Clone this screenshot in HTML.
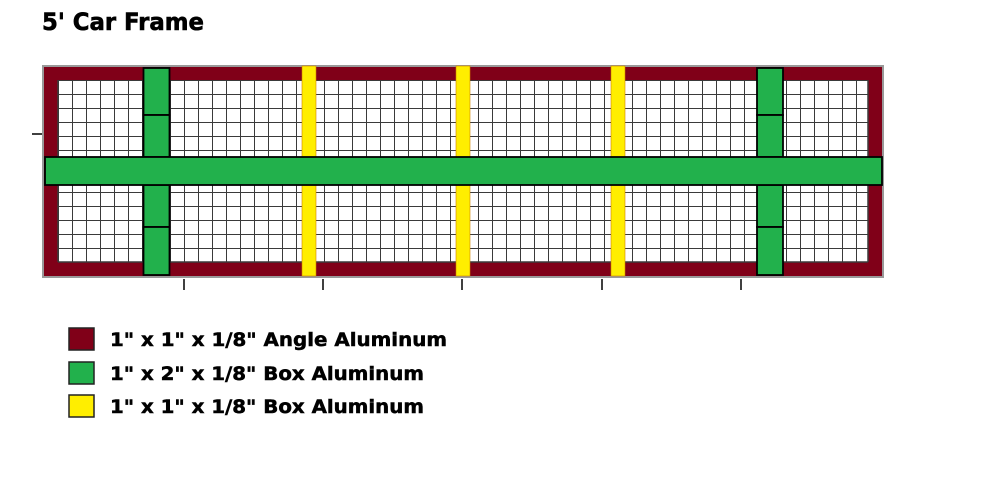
<!DOCTYPE html>
<html><head><meta charset="utf-8"><style>html,body{margin:0;padding:0;background:#fff;width:1000px;height:485px;overflow:hidden}</style></head>
<body>
<svg width="1000" height="485" xmlns="http://www.w3.org/2000/svg" font-family="Tahoma, 'DejaVu Sans', 'Liberation Sans', sans-serif" font-weight="bold">
<defs>
<pattern id="g" x="58" y="80" width="14" height="14" patternUnits="userSpaceOnUse">
<rect width="14" height="14" fill="#fff"/>
<path d="M0 0H14M0 0V14" stroke="#3a3a3a" stroke-width="2" fill="none"/>
</pattern>
</defs>
<text x="42" y="30" font-size="24" textLength="162" lengthAdjust="spacingAndGlyphs" stroke="#000" stroke-width="0.6">5' Car Frame</text>
<rect x="43" y="66" width="840" height="211" fill="#800018" stroke="#999" stroke-width="2"/>
<rect x="58" y="80" width="810" height="182" fill="url(#g)"/>
<line x1="58" y1="80" x2="58" y2="262" stroke="#3a3a3a" stroke-width="1.5"/>
<line x1="868" y1="80" x2="868" y2="262" stroke="#3a3a3a" stroke-width="1.5"/>
<line x1="58" y1="262" x2="868" y2="262" stroke="#3a3a3a" stroke-width="1.5"/>
<g fill="#ffee00" stroke="#d08000" stroke-width="0.6">
<rect x="302" y="66" width="14" height="210"/>
<rect x="456" y="66" width="14" height="210"/>
<rect x="611" y="66" width="14" height="210"/>
</g>
<g fill="#22b14c" stroke="#000" stroke-width="1.8">
<rect x="143.5" y="68" width="26" height="47"/>
<rect x="143.5" y="115" width="26" height="42"/>
<rect x="143.5" y="185" width="26" height="42"/>
<rect x="143.5" y="227" width="26" height="48"/>
<rect x="757" y="68" width="26" height="47"/>
<rect x="757" y="115" width="26" height="42"/>
<rect x="757" y="185" width="26" height="42"/>
<rect x="757" y="227" width="26" height="48"/>
<rect x="45" y="157" width="837" height="28"/>
</g>
<g stroke="#000" stroke-width="1.5">
<line x1="184" y1="279" x2="184" y2="290"/>
<line x1="323" y1="279" x2="323" y2="290"/>
<line x1="462" y1="279" x2="462" y2="290"/>
<line x1="602" y1="279" x2="602" y2="290"/>
<line x1="741" y1="279" x2="741" y2="290"/>
<line x1="32" y1="134" x2="42" y2="134"/>
</g>
<g stroke="#222" stroke-width="1.5">
<rect x="69" y="328" width="25" height="22" fill="#800018"/>
<rect x="69" y="362" width="25" height="22" fill="#22b14c"/>
<rect x="69" y="395" width="25" height="22" fill="#ffee00"/>
</g>
<g font-size="19" stroke="#000" stroke-width="0.5">
<text x="110" y="346" textLength="337" lengthAdjust="spacingAndGlyphs">1" x 1" x 1/8" Angle Aluminum</text>
<text x="110" y="380" textLength="314" lengthAdjust="spacingAndGlyphs">1" x 2" x 1/8" Box Aluminum</text>
<text x="110" y="413" textLength="314" lengthAdjust="spacingAndGlyphs">1" x 1" x 1/8" Box Aluminum</text>
</g>
</svg>
</body></html>
